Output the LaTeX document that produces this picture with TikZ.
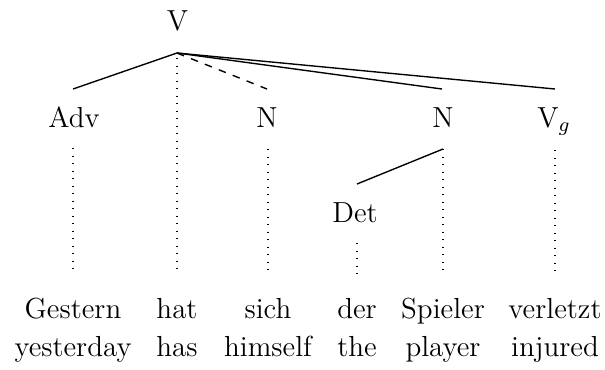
\documentclass[tikz,border=0pt]{standalone}
\begin{document}
\begin{tikzpicture}[x=0.4pt,y=-0.4pt,
  font=\fontsize{11.6}{14}\selectfont,
  lbl/.style={anchor=base, inner sep=0pt},
  edge/.style={line width=0.55pt},
  dashedge/.style={line width=0.55pt, dash pattern=on 3pt off 3pt},
  proj/.style={line width=0.5pt, dash pattern=on 0.45pt off 2.55pt}]
\useasboundingbox (0,0) rectangle (605,369);
% category labels
\node[lbl] (V)   at (177.5,30) {V};
\node[lbl] (Adv) at (74,127) {Adv};
\node[lbl] (N1)  at (267,127) {N};
\node[lbl] (N2)  at (443,127) {N};
\node[lbl] (Vg)  at (554,127) {V$_g$};
\node[lbl] (Det) at (355,222) {Det};
% words
\node[lbl] (w1) at (73,318) {Gestern};
\node[lbl] (w2) at (177,318) {hat};
\node[lbl] (w3) at (268,318) {sich};
\node[lbl] (w4) at (357,318) {der};
\node[lbl] (w5) at (443,318) {Spieler};
\node[lbl] (w6) at (555,318) {verletzt};
% glosses
\node[lbl] (g1) at (73,356) {yesterday};
\node[lbl] (g2) at (177,356) {has};
\node[lbl] (g3) at (268,356) {himself};
\node[lbl] (g4) at (357,356) {the};
\node[lbl] (g5) at (443,356) {player};
\node[lbl] (g6) at (555,356) {injured};
% attachment points
\coordinate (V-b)   at (177,53);
\coordinate (Adv-t) at (73,89);
\coordinate (N1-t)  at (267,89);
\coordinate (N2-t)  at (442,89);
\coordinate (Vg-t)  at (555,89);
\coordinate (N2-b)  at (443,149);
\coordinate (Det-t) at (357,184);
\coordinate (Adv-b) at (73,148);
\coordinate (N1-b)  at (268,149);
\coordinate (Vg-b)  at (555,150);
\coordinate (Det-b) at (357,243);
\coordinate (V-d)   at (177,58);
\coordinate (w1-t) at (73,275);
\coordinate (w2-t) at (177,275);
\coordinate (w3-t) at (268,275);
\coordinate (w4-t) at (357,275);
\coordinate (w5-t) at (443,275);
\coordinate (w6-t) at (555,275);
% tree edges
\draw[edge] (V-b) -- (Adv-t);
\draw[dashedge] (V-b) -- (N1-t);
\draw[edge] (V-b) -- (N2-t);
\draw[edge] (V-b) -- (Vg-t);
\draw[edge] (N2-b) -- (Det-t);
% projection lines
\draw[proj] (Adv-b) -- (w1-t);
\draw[proj] (V-d) -- (w2-t);
\draw[proj] (N1-b) -- (w3-t);
\draw[proj] (Det-b) -- (w4-t);
\draw[proj] (N2-b) -- (w5-t);
\draw[proj] (Vg-b) -- (w6-t);
\end{tikzpicture}
\end{document}
